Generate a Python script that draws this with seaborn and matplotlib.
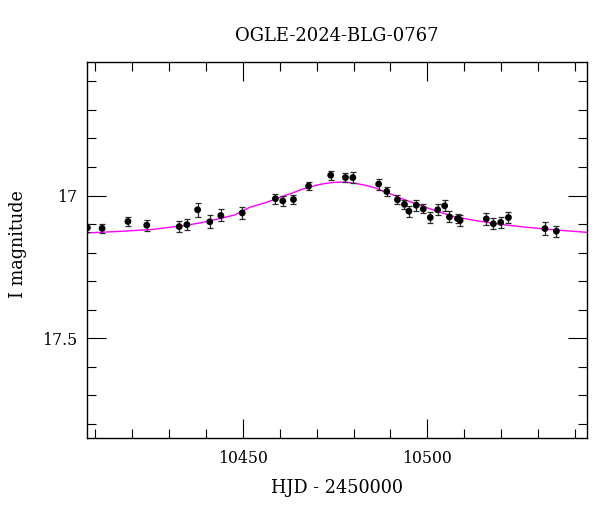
import matplotlib
matplotlib.use("Agg")
from matplotlib import pyplot as plt
from matplotlib.ticker import MultipleLocator
import pandas as pd
import seaborn as sns

# photometry (HJD - 2450000, I mag, error)
hjd = [10407.8, 10411.8, 10418.8, 10423.9, 10432.7, 10434.8, 10437.7, 10441.0,
       10444.0, 10449.8, 10458.8, 10460.8, 10463.7, 10467.8, 10473.8, 10477.8,
       10479.8, 10486.8, 10489.0, 10491.9, 10493.8, 10495.0, 10497.0, 10498.9,
       10500.8, 10502.8, 10504.7, 10506.0, 10508.2, 10508.9, 10516.0, 10517.9,
       10519.9, 10522.0, 10531.9, 10535.0]
mag = [17.113, 17.115, 17.091, 17.104, 17.109, 17.102, 17.050, 17.092,
       17.070, 17.061, 17.011, 17.019, 17.014, 16.967, 16.929, 16.937,
       16.937, 16.960, 16.986, 17.015, 17.031, 17.055, 17.034, 17.047,
       17.077, 17.050, 17.036, 17.075, 17.081, 17.087, 17.082, 17.099,
       17.094, 17.077, 17.116, 17.125]
err = [0.014, 0.016, 0.015, 0.019, 0.020, 0.019, 0.025, 0.023,
       0.021, 0.020, 0.017, 0.018, 0.017, 0.014, 0.016, 0.015,
       0.018, 0.019, 0.015, 0.016, 0.016, 0.019, 0.020, 0.016,
       0.020, 0.020, 0.020, 0.019, 0.015, 0.019, 0.021, 0.019,
       0.019, 0.019, 0.024, 0.019]

# model curve
model_hjd = [10407.7, 10416.2, 10425.3, 10434.3, 10438.8, 10443.3, 10447.8,
             10451.9, 10456.4, 10458.7, 10460.9, 10463.3, 10465.4, 10467.6,
             10470.0, 10472.2, 10474.5, 10477.2, 10479.0, 10481.2, 10483.5,
             10485.8, 10488.0, 10490.4, 10492.5, 10494.7, 10497.1, 10502.5,
             10507.0, 10511.5, 10516.0, 10520.5, 10525.1, 10534.1, 10543.2]
model_mag = [17.131, 17.126, 17.119, 17.105, 17.095, 17.082, 17.068,
             17.041, 17.024, 17.013, 17.002, 16.992, 16.981, 16.972,
             16.964, 16.958, 16.954, 16.953, 16.955, 16.959, 16.965,
             16.973, 16.985, 16.996, 17.008, 17.019, 17.029, 17.055,
             17.073, 17.084, 17.094, 17.102, 17.109, 17.120, 17.129]

data = pd.DataFrame({"hjd": hjd, "mag": mag, "err": err})
model = pd.DataFrame({"hjd": model_hjd, "mag": model_mag})

sns.set_theme(style="ticks")
plt.rcParams["font.family"] = ["DejaVu Serif"]
plt.rcParams["axes.linewidth"] = 1.0
plt.rcParams["axes.edgecolor"] = "black"
plt.rcParams["text.color"] = "black"
plt.rcParams["axes.labelcolor"] = "black"
plt.rcParams["xtick.color"] = "black"
plt.rcParams["ytick.color"] = "black"

fig = plt.figure(figsize=(6, 5.12), dpi=100)
ax = fig.add_axes([0.145, 0.1445, 0.8333, 0.7344])

sns.lineplot(data=model, x="hjd", y="mag", color="magenta", lw=1.0, ax=ax, sort=False)
ax.errorbar(data["hjd"], data["mag"], yerr=data["err"], fmt="none",
            ecolor="#2a2a2a", elinewidth=0.9, capsize=2.5, capthick=0.9)
sns.scatterplot(data=data, x="hjd", y="mag", color="black", s=24, edgecolor="none", ax=ax, zorder=3)

ax.set_xlim(10407.7, 10543.3)
ax.set_ylim(17.85, 16.532)

ax.xaxis.set_major_locator(MultipleLocator(50))
ax.xaxis.set_minor_locator(MultipleLocator(10))
ax.yaxis.set_major_locator(MultipleLocator(0.5))
ax.yaxis.set_minor_locator(MultipleLocator(0.1))
ax.yaxis.set_major_formatter(plt.FuncFormatter(lambda v, p: f"{v:g}"))

ax.tick_params(which="both", direction="in", top=True, right=True, width=0.8)
ax.tick_params(which="major", length=13.5, labelsize=11.3)
ax.tick_params(which="minor", length=6.7)
ax.tick_params(axis="x", which="major", pad=8.5)
ax.tick_params(axis="y", which="major", pad=7)

ax.set_xlabel("HJD - 2450000", fontsize=12.7, labelpad=9)
ax.set_ylabel("I magnitude", fontsize=12.7)
ax.yaxis.set_label_coords(-0.12, 0.516)
ax.set_title("OGLE-2024-BLG-0767", fontsize=13, pad=15)

fig.savefig("out.png", dpi=100)
